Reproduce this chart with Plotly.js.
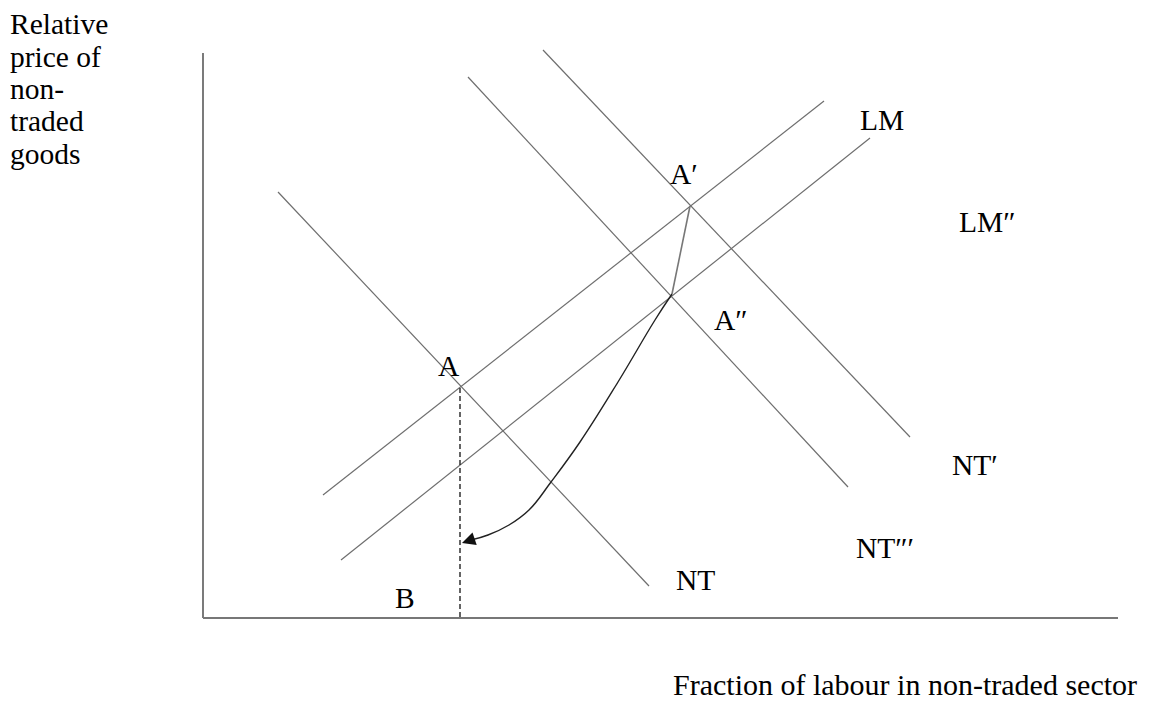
<!DOCTYPE html>
<html>
<head>
<meta charset="utf-8">
<script src="https://cdn.plot.ly/plotly-3.0.1.min.js"></script>
<style>html,body{margin:0;padding:0;background:#fff;}#chart{width:1156px;height:712px;}</style>
</head>
<body>
<div id="chart"></div>
<script>
// Schematic diagram: coordinates measured from the axis origin (x right, y up)
const axisX = [0, 915];
const axisY = [0, 565];

const ntX = [75, 446];          const ntY = [426, 32];      // NT
const ntDblX = [265, 645];      const ntDblY = [541, 131];  // NT‴ (middle)
const ntPrimeX = [340, 707];    const ntPrimeY = [568, 181];// NT′ (upper)
const lmX = [120, 621];         const lmY = [123, 517];     // LM (upper)
const lmDblX = [138, 667];      const lmDblY = [58, 480];   // LM″ (lower)

const jumpX = [469, 487];       const jumpY = [324, 412];   // A″ -> A′
const pathX = [469, 452, 415, 377, 348, 326, 306, 285, 268];
const pathY = [324, 298, 236, 176, 136, 108, 93, 83, 78];
const arrowTip = [259, 75];

const dashX = [257, 257];       const dashY = [230, 0];

const labelText = ["A′", "A″", "A", "B", "NT", "NT′", "NT″′", "LM", "LM″"];
const labelX = [481, 528, 246, 202, 492, 772, 682, 679, 784];
const labelY = [444, 298, 252, 20, 38, 153, 70, 498, 396];

const yTitleLines = ["Relative", "price of", "non-", "traded", "goods"];
const xTitle = "Fraction of labour in non-traded sector";

const lineStyle = {color: '#6e6e6e', width: 1.2};
function seg(x, y, line) {
  return {x: x, y: y, mode: 'lines', type: 'scatter', line: line, hoverinfo: 'skip', showlegend: false};
}
const traces = [
  seg([axisX[0], axisX[0]], [axisY[0], axisY[1]], {color: '#333', width: 1.3}),
  seg([axisX[0], axisX[1]], [axisY[0], axisY[0]], {color: '#777', width: 1.8}),
  seg(ntX, ntY, lineStyle),
  seg(ntDblX, ntDblY, lineStyle),
  seg(ntPrimeX, ntPrimeY, lineStyle),
  seg(lmX, lmY, lineStyle),
  seg(lmDblX, lmDblY, lineStyle),
  seg(jumpX, jumpY, {color: '#777', width: 1.6}),
  {x: pathX, y: pathY, mode: 'lines', type: 'scatter', line: {color: '#222', width: 1.4, shape: 'spline', smoothing: 1.2}, hoverinfo: 'skip', showlegend: false},
  seg(dashX, dashY, {color: '#111', width: 1.3, dash: '5px,3px'})
];

const font = {family: 'Liberation Serif, Times New Roman, serif', size: 29.5, color: '#000'};
const annotations = labelText.map((t, i) => ({
  x: labelX[i], y: labelY[i], xref: 'x', yref: 'y', text: t, showarrow: false, font: font
}));
annotations.push({
  x: arrowTip[0], y: arrowTip[1], xref: 'x', yref: 'y',
  ax: pathX[pathX.length - 1], ay: pathY[pathY.length - 1], axref: 'x', ayref: 'y',
  text: '', showarrow: true, arrowhead: 2, arrowsize: 1.9, arrowwidth: 1.4, arrowcolor: '#111', standoff: 0
});
yTitleLines.forEach((t, i) => annotations.push({
  x: 8 / 1156, y: 1 - (24 + i * 32.5) / 712, xref: 'paper', yref: 'paper', xanchor: 'left', yanchor: 'middle',
  text: t, showarrow: false, font: font
}));
annotations.push({
  x: 1139 / 1156, y: 1 - 684 / 712, xref: 'paper', yref: 'paper', xanchor: 'right', yanchor: 'middle',
  text: xTitle, showarrow: false, font: Object.assign({}, font, {size: 30})
});

const layout = {
  width: 1156, height: 712,
  margin: {l: 0, r: 0, t: 0, b: 0},
  paper_bgcolor: '#fff', plot_bgcolor: '#fff',
  xaxis: {range: [-203, 953], visible: false, fixedrange: true},
  yaxis: {range: [-94, 618], visible: false, fixedrange: true},
  annotations: annotations,
  showlegend: false
};
Plotly.newPlot('chart', traces, layout, {displayModeBar: false, staticPlot: true});
</script>
</body>
</html>
